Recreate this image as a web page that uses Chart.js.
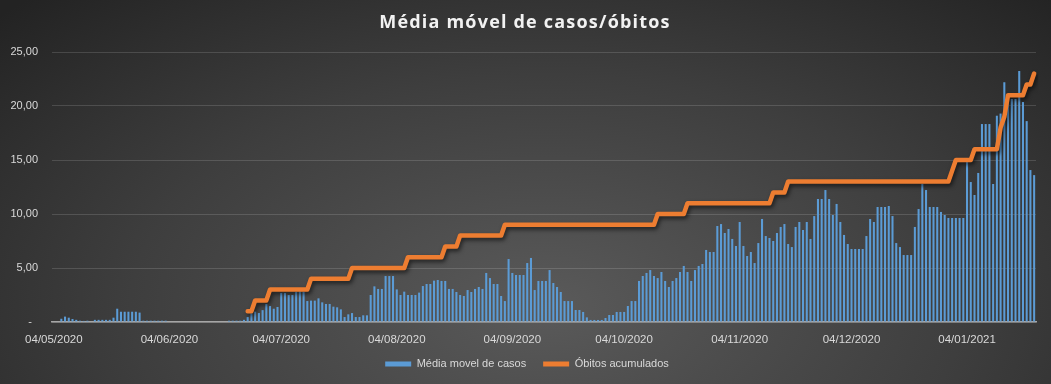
<!DOCTYPE html>
<html>
<head>
<meta charset="utf-8">
<script src="https://cdn.jsdelivr.net/npm/chart.js@4"></script>
<style>
  html, body { margin: 0; padding: 0; background: #222; }
  #wrap {
    width: 1051px; height: 384px; position: relative;
    background: radial-gradient(ellipse 72% 110% at 52% 80%, #5a5a5a 0%, #3e3e3e 55%, #232323 100%);
  }
  canvas { display: block; }
</style>
</head>
<body>
<div id="wrap"><canvas id="chart" width="1051" height="384"></canvas></div>
<script>
// daily categories start on 04/05/2020, one per day
const firstDay = { year: 2020, month: 5, day: 4 };
const dayCount = 264;

const titleText = 'Média móvel de casos/óbitos';
const seriesNames = ['Média movel de casos', 'Óbitos acumulados'];
const yTicks = [0, 5, 10, 15, 20, 25];

// média móvel de casos (bars)
const mediaCasos = [
  0, 0, 0.3, 0.5, 0.4, 0.28, 0.2, 0.12, 0.1, 0.12,
  0, 0.2, 0.2, 0.2, 0.2, 0.2, 0.4, 1.23, 0.95, 0.95,
  0.95, 0.95, 0.95, 0.87, 0.12, 0.12, 0.12, 0.12, 0.12, 0.12,
  0.12, 0, 0, 0, 0, 0, 0, 0, 0, 0,
  0, 0, 0, 0, 0, 0, 0, 0.12, 0.12, 0.12,
  0.12, 0.2, 0.46, 0.8, 0.96, 0.83, 1.1, 1.67, 1.48, 1.23,
  1.39, 2.69, 2.69, 2.5, 2.5, 2.8, 2.85, 2.8, 1.94, 1.98,
  1.98, 2.19, 1.82, 1.67, 1.67, 1.42, 1.36, 1.17, 0.46, 0.71,
  0.83, 0.46, 0.46, 0.62, 0.62, 2.5, 3.3, 3.06, 3.06, 4.26,
  4.26, 4.26, 3.02, 2.5, 2.81, 2.5, 2.5, 2.5, 2.72, 3.33,
  3.52, 3.52, 3.83, 3.89, 3.8, 3.8, 3.06, 3.06, 2.78, 2.5,
  2.41, 2.96, 2.78, 3.06, 3.24, 3.06, 4.54, 4.07, 3.52, 3.52,
  2.41, 1.94, 5.83, 4.54, 4.35, 4.35, 4.35, 5.46, 5.93, 2.96,
  3.8, 3.8, 3.8, 4.81, 3.61, 3.24, 2.78, 1.94, 1.94, 1.94,
  1.11, 1.11, 0.93, 0.43, 0.19, 0.19, 0.19, 0.19, 0.37, 0.65,
  0.65, 0.93, 0.93, 0.93, 1.48, 1.94, 1.94, 3.8, 4.26, 4.54,
  4.81, 4.26, 4.07, 4.63, 3.8, 3.24, 3.8, 4.07, 4.63, 5.19,
  4.63, 3.8, 4.81, 5.19, 5.37, 6.67, 6.48, 6.48, 8.89, 9.07,
  8.24, 8.61, 7.69, 7.04, 9.26, 7.04, 6.11, 6.48, 5.46, 7.31,
  9.54, 7.96, 7.78, 7.5, 8.24, 8.8, 9.07, 7.22, 6.94, 8.8,
  9.26, 8.52, 9.26, 7.69, 9.81, 11.39, 11.39, 12.22, 11.39, 9.91,
  10.93, 9.26, 8.06, 7.22, 6.76, 6.76, 6.76, 6.76, 7.96, 9.54,
  9.26, 10.65, 10.65, 10.65, 10.74, 9.81, 7.31, 6.94, 6.2, 6.2,
  6.2, 8.8, 10.46, 12.78, 12.22, 10.65, 10.65, 10.65, 10.19, 9.91,
  9.63, 9.63, 9.63, 9.63, 9.63, 14.81, 12.96, 11.76, 13.8, 18.33,
  18.33, 18.33, 12.78, 19.1, 19.3, 22.2, 20.65, 20.65, 20.65, 23.24,
  20.37, 18.6, 14.07, 13.6
];

// óbitos acumulados (line), empty before the first death
const obitosAcumulados = [
  null, null, null, null, null, null, null, null, null, null,
  null, null, null, null, null, null, null, null, null, null,
  null, null, null, null, null, null, null, null, null, null,
  null, null, null, null, null, null, null, null, null, null,
  null, null, null, null, null, null, null, null, null, null,
  null, null, 1, 1, 2, 2, 2, 2, 3, 3,
  3, 3, 3, 3, 3, 3, 3, 3, 3, 4,
  4, 4, 4, 4, 4, 4, 4, 4, 4, 4,
  5, 5, 5, 5, 5, 5, 5, 5, 5, 5,
  5, 5, 5, 5, 5, 6, 6, 6, 6, 6,
  6, 6, 6, 6, 6, 7, 7, 7, 7, 8,
  8, 8, 8, 8, 8, 8, 8, 8, 8, 8,
  8, 9, 9, 9, 9, 9, 9, 9, 9, 9,
  9, 9, 9, 9, 9, 9, 9, 9, 9, 9,
  9, 9, 9, 9, 9, 9, 9, 9, 9, 9,
  9, 9, 9, 9, 9, 9, 9, 9, 9, 9,
  9, 9, 10, 10, 10, 10, 10, 10, 10, 10,
  11, 11, 11, 11, 11, 11, 11, 11, 11, 11,
  11, 11, 11, 11, 11, 11, 11, 11, 11, 11,
  11, 11, 11, 12, 12, 12, 12, 13, 13, 13,
  13, 13, 13, 13, 13, 13, 13, 13, 13, 13,
  13, 13, 13, 13, 13, 13, 13, 13, 13, 13,
  13, 13, 13, 13, 13, 13, 13, 13, 13, 13,
  13, 13, 13, 13, 13, 13, 13, 13, 13, 13,
  13, 14, 15, 15, 15, 15, 15, 16, 16, 16,
  16, 16, 16, 16, 18, 19, 21, 21, 21, 21,
  21, 22, 22, 23
];

const labels = [];
for (let i = 0; i < dayCount; i++) {
  const d = new Date(Date.UTC(firstDay.year, firstDay.month - 1, firstDay.day + i));
  labels.push(String(d.getUTCDate()).padStart(2, '0') + '/' +
    String(d.getUTCMonth() + 1).padStart(2, '0') + '/' + d.getUTCFullYear());
}

const textColor = '#d9d9d9';
const family = '"Liberation Sans", Arial, sans-serif';

// Excel-like soft shadow under the orange line
const lineShadow = {
  id: 'lineShadow',
  beforeDatasetDraw(chart, args) {
    if (args.meta.type !== 'line') return;
    const ctx = chart.ctx;
    ctx.save();
    ctx.shadowColor = 'rgba(0,0,0,0.6)';
    ctx.shadowBlur = 4;
    ctx.shadowOffsetX = 1.5;
    ctx.shadowOffsetY = 2.5;
  },
  afterDatasetDraw(chart, args) {
    if (args.meta.type !== 'line') return;
    chart.ctx.restore();
  }
};

// title with letter spacing
const chartTitle = {
  id: 'chartTitle',
  afterDraw(chart) {
    const ctx = chart.ctx;
    ctx.save();
    ctx.font = 'bold 18px "Open Sans", sans-serif';
    ctx.letterSpacing = '1.2px';
    ctx.fillStyle = '#f2f2f2';
    ctx.textAlign = 'center';
    ctx.textBaseline = 'middle';
    ctx.fillText(titleText, 525, 23);
    ctx.restore();
  }
};

// move the legend a little right and up, as in the original
const legendNudge = {
  id: 'legendNudge',
  afterLayout(chart) {
    const lg = chart.legend;
    lg.left += 5;
    lg.right += 5;
    lg.top -= 6.5;
    lg.bottom -= 6.5;
  }
};

const ctx = document.getElementById('chart').getContext('2d');
new Chart(ctx, {
  type: 'bar',
  data: {
    labels: labels,
    datasets: [{
      type: 'bar',
      label: seriesNames[0],
      data: mediaCasos,
      backgroundColor: '#5b9bd5',
      borderWidth: 0,
      barPercentage: 0.55,
      categoryPercentage: 1.0,
      order: 2
    }, {
      type: 'line',
      label: seriesNames[1],
      data: obitosAcumulados,
      borderColor: '#ed7d31',
      backgroundColor: '#ed7d31',
      borderWidth: 4.5,
      borderJoinStyle: 'round',
      borderCapStyle: 'round',
      pointRadius: 0,
      tension: 0,
      fill: false,
      order: 1
    }]
  },
  options: {
    responsive: false,
    animation: false,
    layout: { padding: { left: 8, right: 15, top: 52, bottom: 0 } },
    scales: {
      x: {
        grid: { display: false, drawTicks: false },
        border: { display: true, color: '#a6a6a6', width: 1.5 },
        afterFit: function (scale) {
          scale.paddingLeft = 0;
          scale.paddingRight = 0;
          scale.height = 26;
        },
        ticks: {
          autoSkip: false,
          maxRotation: 0,
          minRotation: 0,
          padding: 11,
          color: textColor,
          font: { family: family, size: 11.5 },
          callback: function (value) {
            const l = this.getLabelForValue(value);
            return l.startsWith('04/') ? l : '';
          }
        }
      },
      y: {
        min: yTicks[0],
        max: yTicks[yTicks.length - 1],
        afterBuildTicks: function (scale) {
          scale.ticks = yTicks.map(v => ({ value: v }));
        },
        afterFit: function (scale) {
          scale.width = 44;
        },
        grid: {
          color: 'rgba(255,255,255,0.14)',
          lineWidth: 1,
          drawTicks: false
        },
        border: { display: false },
        ticks: {
          padding: 14,
          color: textColor,
          font: { family: family, size: 11 },
          callback: function (v) {
            return v === 0 ? '-  ' : v.toFixed(2).replace('.', ',');
          }
        }
      }
    },
    plugins: {
      title: { display: false },
      tooltip: { enabled: false },
      legend: {
        position: 'bottom',
        maxHeight: 36,
        labels: {
          color: textColor,
          font: { family: family, size: 11 },
          boxWidth: 26,
          boxHeight: 5,
          padding: 17,
          sort: (a, b) => a.datasetIndex - b.datasetIndex,
          generateLabels: function (chart) {
            const items = Chart.defaults.plugins.legend.labels.generateLabels(chart);
            items.forEach(it => { it.lineWidth = 0; it.strokeStyle = 'rgba(0,0,0,0)'; });
            return items;
          }
        }
      }
    }
  },
  plugins: [lineShadow, chartTitle, legendNudge]
});
</script>
</body>
</html>
